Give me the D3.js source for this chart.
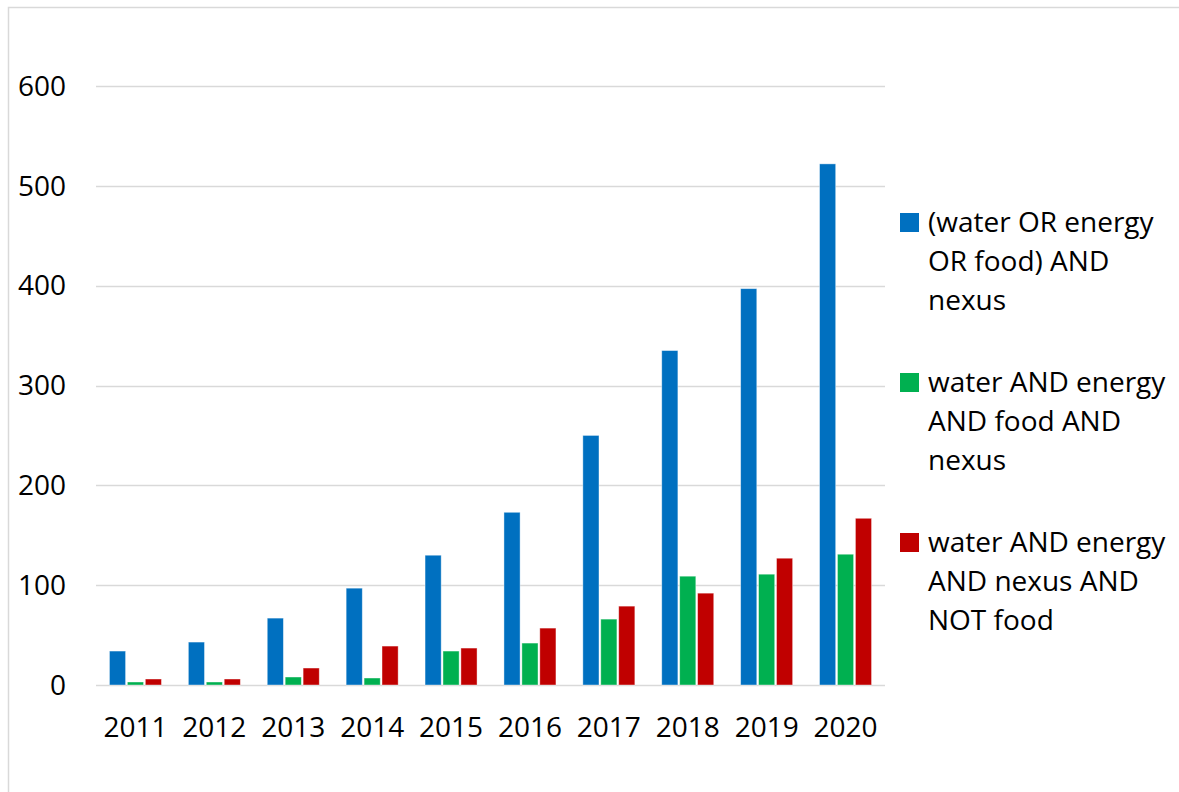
<!DOCTYPE html>
<html>
<head>
<meta charset="utf-8">
<script src="https://cdn.jsdelivr.net/npm/d3@7"></script>
<style>
  html, body { margin: 0; padding: 0; background: #fff; }
  svg { display: block; }
  text { font-family: "Open Sans", "Noto Sans", sans-serif; fill: #000; }
</style>
</head>
<body>
<svg id="chart" width="1179" height="792"></svg>
<script>
const years = ["2011","2012","2013","2014","2015","2016","2017","2018","2019","2020"];
const seriesNames = [
  "(water OR energy OR food) AND nexus",
  "water AND energy AND food AND nexus",
  "water AND energy AND nexus AND NOT food"
];
const legendLines = [
  ["(water OR energy", "OR food) AND", "nexus"],
  ["water AND energy", "AND food AND", "nexus"],
  ["water AND energy", "AND nexus AND", "NOT food"]
];
const colors = ["#0070C0", "#00B050", "#C00000"];
const anyNexus   = [34, 43, 67, 97, 130, 173, 250, 335, 397, 522];
const allNexus   = [3, 3, 8, 7, 34, 42, 66, 109, 111, 131];
const notFood    = [6, 6, 17, 39, 37, 57, 79, 92, 127, 167];
const yTicks = [0, 100, 200, 300, 400, 500, 600];

const values = [anyNexus, allNexus, notFood];

const svg = d3.select("#chart");

// outer frame
svg.append("rect")
  .attr("x", 8.5).attr("y", 7.5)
  .attr("width", 1179).attr("height", 792)
  .attr("fill", "none").attr("stroke", "#D9D9D9").attr("stroke-width", 1.5);

const plotLeft = 96, plotRight = 885;
const y = d3.scaleLinear().domain([0, 600]).range([685, 86]);
const x0 = d3.scaleBand().domain(years).range([plotLeft, plotRight]).padding(0);
const groupW = 52;
const x1 = d3.scaleBand().domain(d3.range(seriesNames.length)).range([0, groupW]).paddingInner(0.1);
const groupOffset = (x0.bandwidth() - groupW) / 2;

const fs = 28;

// gridlines
svg.append("g").selectAll("line")
  .data(yTicks)
  .join("line")
  .attr("x1", plotLeft).attr("x2", plotRight)
  .attr("y1", d => Math.round(y(d)) + 0.5)
  .attr("y2", d => Math.round(y(d)) + 0.5)
  .attr("stroke", "#D9D9D9").attr("stroke-width", 1.5);

// y tick labels
svg.append("g").selectAll("text")
  .data(yTicks)
  .join("text")
  .attr("x", 66)
  .attr("y", d => y(d))
  .attr("dy", "0.35em")
  .attr("text-anchor", "end")
  .attr("font-size", fs)
  .text(d => d);

// bars
const groups = svg.append("g").selectAll("g")
  .data(years)
  .join("g")
  .attr("transform", d => `translate(${x0(d) + groupOffset},0)`);

groups.selectAll("rect")
  .data((d, i) => values.map((arr, s) => ({ s, v: arr[i] })))
  .join("rect")
  .attr("x", d => x1(d.s))
  .attr("width", x1.bandwidth())
  .attr("y", d => y(d.v))
  .attr("height", d => y(0) - y(d.v))
  .attr("fill", d => colors[d.s])
  .attr("stroke", "#ffffff")
  .attr("stroke-opacity", 0.5)
  .attr("stroke-width", 0.8);

// x labels
svg.append("g").selectAll("text")
  .data(years)
  .join("text")
  .attr("x", d => x0(d) + x0.bandwidth() / 2)
  .attr("y", 737)
  .attr("text-anchor", "middle")
  .attr("font-size", fs)
  .text(d => d);

// legend
const legend = svg.append("g").selectAll("g")
  .data(seriesNames)
  .join("g")
  .attr("transform", (d, i) => `translate(900, ${213 + i * 160})`);

legend.append("rect")
  .attr("width", 19).attr("height", 19)
  .attr("fill", (d, i) => colors[i]);

legend.each(function(d, i) {
  const t = d3.select(this).append("text")
    .attr("x", 28)
    .attr("y", 9.5)
    .attr("font-size", fs);
  legendLines[i].forEach((line, k) => {
    t.append("tspan")
      .attr("x", 28)
      .attr("y", 9.5 + k * 39)
      .attr("dy", "0.35em")
      .text(line);
  });
});
</script>
</body>
</html>
